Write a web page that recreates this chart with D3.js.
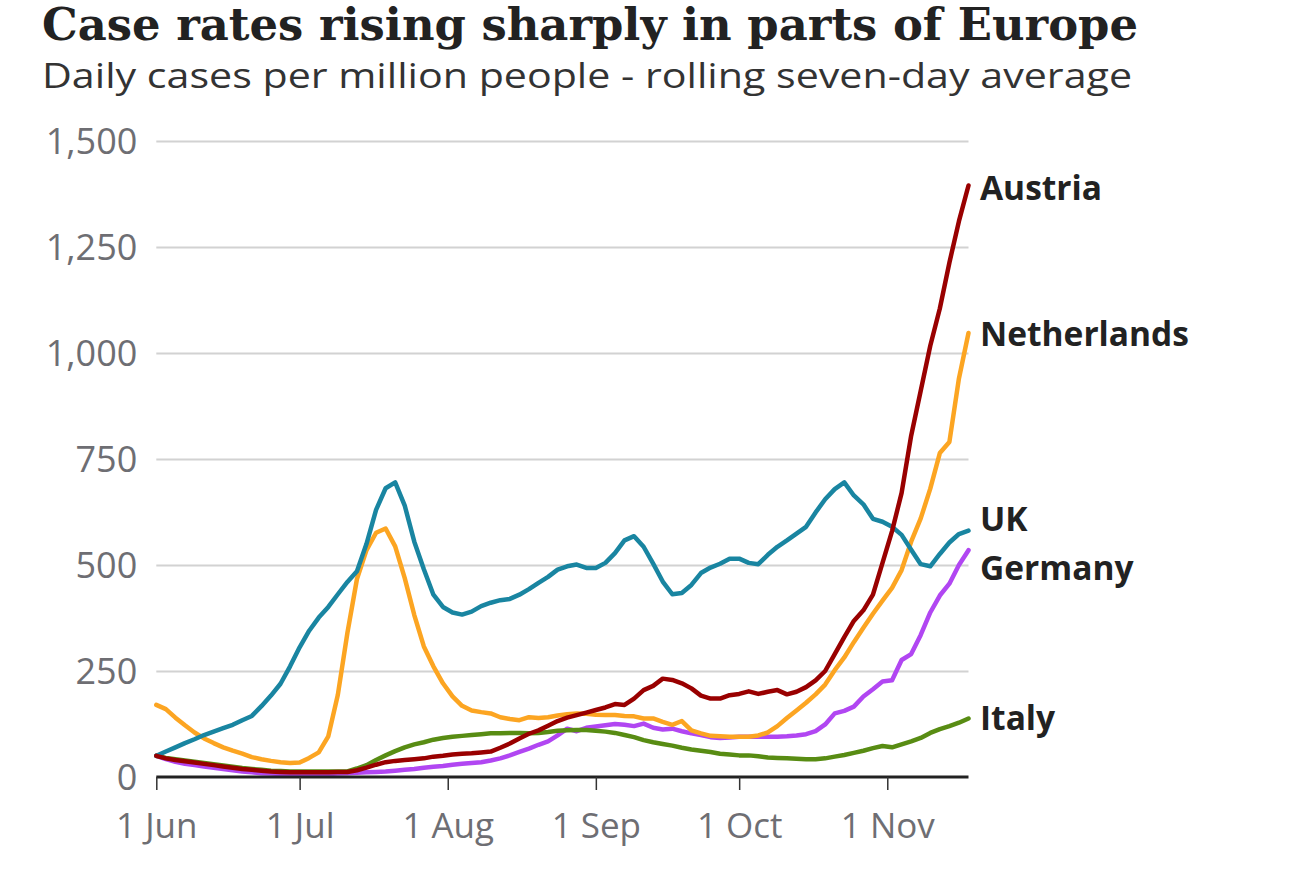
<!DOCTYPE html>
<html>
<head>
<meta charset="utf-8">
<script src="https://cdn.jsdelivr.net/npm/d3@7"></script>
<style>
  html, body { margin: 0; padding: 0; background: #ffffff; }
  svg { display: block; }
</style>
</head>
<body>
<svg id="chart" width="1298" height="869"></svg>
<script>
// ---- Data (daily cases per million, rolling 7-day average; sampled every 2 days from 1 Jun 2021) ----
const startDate = "2021-06-01";
const dayOffsets = d3.range(0, 171, 2); // 1 Jun .. 18 Nov

const ukValues = [50,60,70,80,89,99,107,115,123,134,
  144,167,192,220,261,306,345,376,401,431,
  460,485,550,630,681,695,640,555,490,430,
  401,388,383,390,403,411,417,420,430,443,
  458,472,489,497,501,493,493,505,528,558,
  568,543,503,461,431,434,453,481,494,503,
  515,515,505,502,524,543,558,574,590,624,
  655,679,695,664,643,609,602,590,571,536,
  502,497,526,553,573,581];

const netherlandsValues = [170,160,140,122,105,91,80,70,62,55,
  47,42,38,35,33,34,45,58,96,194,
  340,467,535,576,586,544,469,382,308,261,
  221,190,168,157,153,150,141,137,134,141,
  139,141,145,148,150,149,147,146,146,144,
  143,138,138,130,123,132,110,103,97,96,
  95,95,95,98,105,120,139,157,175,195,
  218,252,282,318,352,385,416,446,488,555,
  610,680,764,790,940,1047];

const austriaValues = [50,44,40,37,34,31,28,25,22,19,
  17,15,13,12,11,11,11,11,11,12,
  12,16,22,29,35,38,40,42,44,48,
  50,53,55,56,58,60,69,79,91,102,
  110,121,132,140,146,152,158,164,172,170,
  185,205,215,232,229,221,209,192,185,185,
  193,196,202,196,201,205,195,201,212,228,
  250,290,330,368,393,430,505,580,670,805,
  911,1017,1105,1213,1311,1395];

const germanyValues = [50,42,36,31,28,25,22,19,16,13,
  11,9,8,7,6,6,6,6,7,8,
  9,10,11,12,13,15,17,19,22,24,
  26,29,31,33,35,39,44,51,59,67,
  76,84,98,114,108,116,119,122,125,123,
  120,126,116,112,114,108,103,99,94,92,
  93,95,95,95,95,95,96,98,101,108,
  124,150,156,166,190,207,225,228,276,290,
  335,388,428,456,500,535];

const italyValues = [50,45,42,39,36,33,30,27,24,21,
  19,17,15,14,13,13,13,13,13,13,
  13,20,28,40,51,61,70,77,82,88,
  92,95,97,99,101,103,103,104,104,103,
  104,106,109,110,111,111,109,107,104,99,
  94,87,82,78,74,69,65,62,59,55,
  53,51,51,49,46,45,44,43,42,42,
  44,48,52,57,62,68,73,70,77,84,
  92,104,113,120,128,138];

const seriesNames = ["Germany", "Italy", "Netherlands", "UK", "Austria"];
const seriesColors = ["#b146f2", "#588c13", "#fca522", "#1985a1", "#990000"];
const yTicks = [0, 250, 500, 750, 1000, 1250, 1500];
const xTickDates = ["2021-06-01","2021-07-01","2021-08-01","2021-09-01","2021-10-01","2021-11-01"];
const xTickLabels = ["1 Jun","1 Jul","1 Aug","1 Sep","1 Oct","1 Nov"];
const labelNames = ["Austria", "Netherlands", "UK", "Germany", "Italy"];
const labelValues = [1390, 1045, 608, 494, 140]; // value level where each end label sits

const title = "Case rates rising sharply in parts of Europe";
const subtitle = "Daily cases per million people - rolling seven-day average";

// ---- Build ----
const valuesByName = {
  "UK": ukValues, "Netherlands": netherlandsValues, "Austria": austriaValues,
  "Germany": germanyValues, "Italy": italyValues
};
const parse = d3.utcParse("%Y-%m-%d");
const t0 = parse(startDate);
const dates = dayOffsets.map(d => d3.utcDay.offset(t0, d));

const svg = d3.select("#chart");
const plot = { left: 156.3, right: 968.5, top: 141, bottom: 777 };

const x = d3.scaleUtc()
  .domain([t0, dates[dates.length - 1]])
  .range([plot.left, plot.right]);
const y = d3.scaleLinear()
  .domain([0, 1500])
  .range([plot.bottom, plot.top]);

// Title & subtitle
svg.append("text")
  .attr("x", 42).attr("y", 40)
  .attr("font-family", "'DejaVu Serif', 'Liberation Serif', serif")
  .attr("font-weight", "bold")
  .attr("font-size", 44)
  .attr("fill", "#222222")
  .attr("textLength", 1096)
  .attr("lengthAdjust", "spacingAndGlyphs")
  .text(title);

svg.append("text")
  .attr("x", 42).attr("y", 88)
  .attr("font-family", "'Open Sans', 'Noto Sans', sans-serif")
  .attr("font-size", 34)
  .attr("fill", "#333333")
  .attr("textLength", 1090)
  .attr("lengthAdjust", "spacingAndGlyphs")
  .text(subtitle);

// Gridlines + y labels
const yAxis = d3.axisLeft(y)
  .tickValues(yTicks)
  .tickSize(-(plot.right - plot.left))
  .tickPadding(19)
  .tickFormat(d3.format(","));

const gy = svg.append("g")
  .attr("transform", `translate(${plot.left},0)`)
  .call(yAxis);
gy.select(".domain").remove();
gy.selectAll(".tick line")
  .attr("stroke", "#d2d2d2")
  .attr("stroke-width", 2);
gy.selectAll(".tick")
  .filter(d => d === 0)
  .select("line").remove();
gy.selectAll(".tick text")
  .attr("font-family", "'Open Sans', 'Noto Sans', sans-serif")
  .attr("font-size", 36)
  .attr("fill", "#6e6e73")
  .attr("dy", "0.36em");

// Lines
const line = d3.line()
  .x((d, i) => x(dates[i]))
  .y(d => y(d))
  .curve(d3.curveLinear);

seriesNames.forEach((name, k) => {
  svg.append("path")
    .datum(valuesByName[name])
    .attr("fill", "none")
    .attr("stroke", seriesColors[k])
    .attr("stroke-width", 4.5)
    .attr("stroke-linejoin", "round")
    .attr("stroke-linecap", "round")
    .attr("d", line);
});

// X axis
const xAxis = d3.axisBottom(x)
  .tickValues(xTickDates.map(parse))
  .tickSize(13)
  .tickPadding(23)
  .tickFormat((d, i) => xTickLabels[i]);

const gx = svg.append("g")
  .attr("transform", `translate(0,${plot.bottom})`)
  .call(xAxis);
gx.select(".domain")
  .attr("stroke", "#222222")
  .attr("stroke-width", 3)
  .attr("d", `M${plot.left},0H${plot.right}`);
gx.selectAll(".tick line")
  .attr("stroke", "#333333")
  .attr("stroke-width", 1.5);
gx.selectAll(".tick text")
  .attr("font-family", "'Open Sans', 'Noto Sans', sans-serif")
  .attr("font-size", 35)
  .attr("fill", "#6e6e73")
  .attr("dy", "0.71em");

// End labels
labelNames.forEach((name, i) => {
  svg.append("text")
    .attr("x", 980)
    .attr("y", y(labelValues[i]))
    .attr("dy", "0.36em")
    .attr("font-family", "'Open Sans', 'Noto Sans', sans-serif")
    .attr("font-weight", "bold")
    .attr("font-size", 33.5)
    .attr("fill", "#222222")
    .text(name);
});
</script>
</body>
</html>
